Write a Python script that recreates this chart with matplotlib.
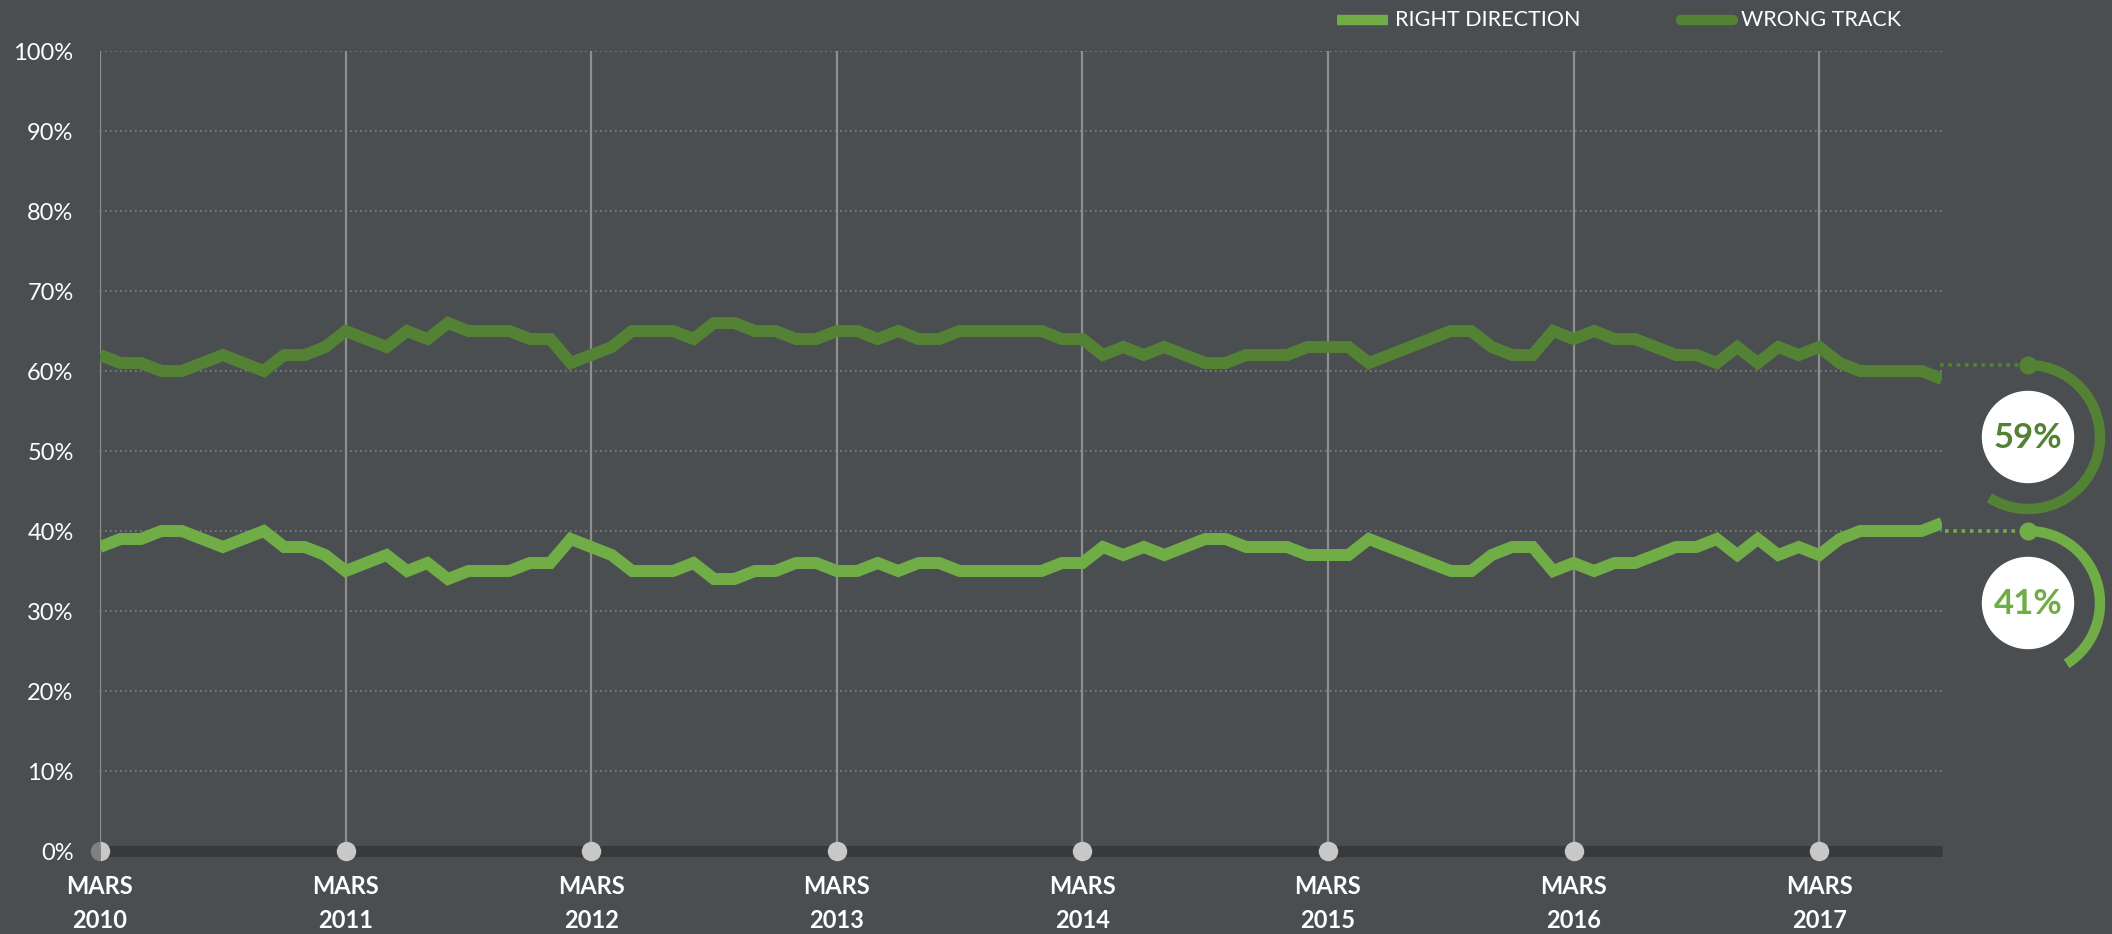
import matplotlib
matplotlib.use("Agg")
import matplotlib.pyplot as plt
from matplotlib.patches import Arc, Circle
from matplotlib.lines import Line2D

# monthly poll, Mar 2010 .. Sep 2017
years = [2010, 2011, 2012, 2013, 2014, 2015, 2016, 2017]
tick_month = "MARS"

wrong_track = [62, 61, 61, 60, 60, 61, 62, 61, 60, 62, 62, 63,
               65, 64, 63, 65, 64, 66, 65, 65, 65, 64, 64, 61,
               62, 63, 65, 65, 65, 64, 66, 66, 65, 65, 64, 64,
               65, 65, 64, 65, 64, 64, 65, 65, 65, 65, 65, 64,
               64, 62, 63, 62, 63, 62, 61, 61, 62, 62, 62, 63,
               63, 63, 61, 62, 63, 64, 65, 65, 63, 62, 62, 65,
               64, 65, 64, 64, 63, 62, 62, 61, 63, 61, 63, 62,
               63, 61, 60, 60, 60, 60, 59]

right_direction = [38, 39, 39, 40, 40, 39, 38, 39, 40, 38, 38, 37,
                   35, 36, 37, 35, 36, 34, 35, 35, 35, 36, 36, 39,
                   38, 37, 35, 35, 35, 36, 34, 34, 35, 35, 36, 36,
                   35, 35, 36, 35, 36, 36, 35, 35, 35, 35, 35, 36,
                   36, 38, 37, 38, 37, 38, 39, 39, 38, 38, 38, 37,
                   37, 37, 39, 38, 37, 36, 35, 35, 37, 38, 38, 35,
                   36, 35, 36, 36, 37, 38, 38, 39, 37, 39, 37, 38,
                   37, 39, 40, 40, 40, 40, 41]

bg = "#4a4e50"
light_green = "#70ad47"
dark_green = "#548235"
font = "Lato"

W, H = 2112, 934
fig = plt.figure(figsize=(W / 100, H / 100), dpi=100, facecolor=bg)
ax = fig.add_axes([100 / W, 83 / H, 1842 / W, 800 / H])
ax.set_facecolor(bg)

months = list(range(len(right_direction)))
ax.set_xlim(0, months[-1])
ax.set_ylim(0, 100)
for s in ax.spines.values():
    s.set_visible(False)

# dotted horizontal grid
ax.hlines(range(10, 101, 10), 0, months[-1], colors="#808385", lw=1.2,
          linestyles=(0, (1, 2)), zorder=1)

# yearly vertical lines
march_idx = [12 * i for i in range(len(years))]
ax.vlines(march_idx, 0, 100, colors="#8e8e8e", lw=1.6, zorder=2)

# dark base bar
ax.axhline(0, color="#38393a", lw=8, solid_capstyle="butt", clip_on=False, zorder=3)

ax.plot(months, wrong_track, color=dark_green, lw=8.6, solid_joinstyle="miter",
        solid_capstyle="butt", zorder=4)
ax.plot(months, right_direction, color=light_green, lw=8.6, solid_joinstyle="miter",
        solid_capstyle="butt", zorder=4)

# markers on base bar
ax.plot(march_idx[1:], [0] * (len(march_idx) - 1), "o", ms=14, color="#c8c8c8",
        mec="none", clip_on=False, zorder=5)
ax.plot(march_idx[:1], [0], "o", ms=14, color="#c8c8c8", mec="none",
        fillstyle="right", markerfacecoloralt="#808080", clip_on=False, zorder=5)

ax.set_yticks(range(0, 101, 10))
ax.set_yticklabels([f"{v}%" for v in range(0, 101, 10)], fontsize=17,
                   color="white", family=font)
ax.set_xticks(march_idx)
ax.set_xticklabels([f"{tick_month}\n{y}" for y in years], fontsize=17,
                   color="white", family=font, fontweight="bold", linespacing=1.62)
ax.tick_params(axis="y", length=0, pad=19)
ax.tick_params(axis="x", length=0, pad=17)

# overlay in pixel space for legend and end annotations
ov = fig.add_axes([0, 0, 1, 1])
ov.set_xlim(0, W)
ov.set_ylim(0, H)
ov.axis("off")
ov.patch.set_alpha(0)

# legend
ov.add_line(Line2D([1337, 1388], [H - 20, H - 20], color=light_green, lw=7.5,
                   solid_capstyle="butt"))
ov.text(1395, H - 20, "RIGHT DIRECTION", color="white", fontsize=15.5, family=font,
        va="center", ha="left")
ov.add_line(Line2D([1681, 1733], [H - 20, H - 20], color=dark_green, lw=7.5,
                   solid_capstyle="round"))
ov.text(1741, H - 20, "WRONG TRACK", color="white", fontsize=15.5, family=font,
        va="center", ha="left")


def end_badge(value, color, cx, cy, x_start):
    r = 72
    top = cy + r
    ov.add_line(Line2D([x_start, cx], [top, top], color=color, lw=2.6,
                       linestyle=(0, (1, 1.3))))
    sweep = 360 * value / 100
    ov.add_patch(Arc((cx, cy), 2 * r, 2 * r, theta1=90 - sweep, theta2=90,
                     color=color, lw=7.5, capstyle="butt"))
    ov.plot([cx], [top], "o", ms=13, color=color, mec="none")
    ov.add_patch(Circle((cx, cy), 45.5, color="white"))
    ov.text(cx, cy - 1, f"{value}%", color=color, fontsize=25, family=font,
            fontweight="bold", ha="center", va="center")


end_badge(wrong_track[-1], dark_green, 2028, H - 437, 1940)
end_badge(right_direction[-1], light_green, 2028, H - 603, 1945)

fig.savefig("out.png", dpi=100, facecolor=bg)
